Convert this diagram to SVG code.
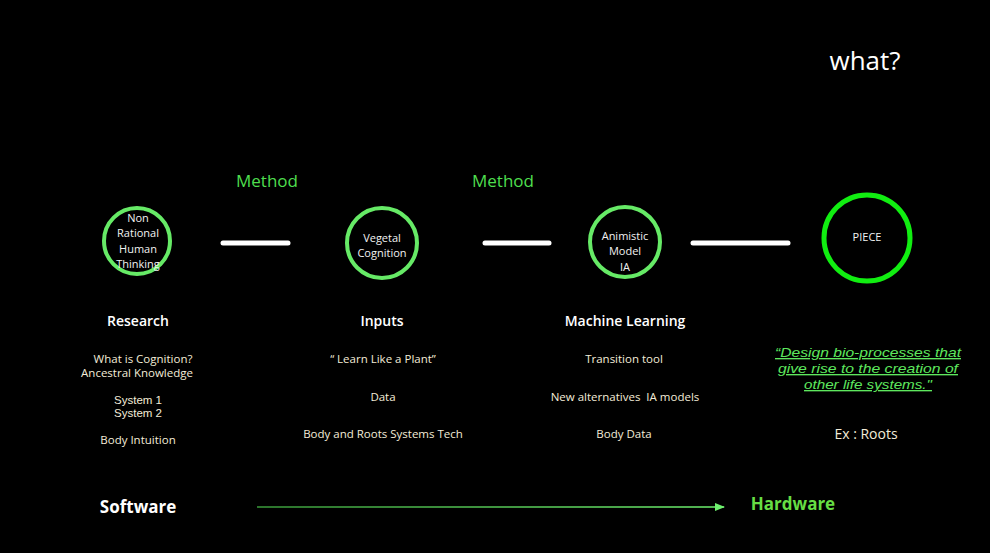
<svg xmlns="http://www.w3.org/2000/svg" width="990" height="553" viewBox="0 0 990 553">
<defs>
<style>
text{font-family:"Open Sans","Liberation Sans",sans-serif;text-anchor:middle}
.ring{fill:none;stroke:#66ea66;stroke-width:4}
.in{fill:#f2f2f2;font-size:11px}
.head{fill:#ffffff;font-size:14px;font-weight:600}
.small{fill:#f3ecd8;font-size:11.5px}
.tight{font-family:"Liberation Sans",sans-serif;font-size:11px}
.meth{fill:#4ede4e;font-size:17px}
.bar{stroke:#ffffff;stroke-width:5;stroke-linecap:round}
.quote{font-family:"Liberation Sans",sans-serif;fill:#5ee85e;font-size:13.5px;font-style:italic;text-decoration:underline}
</style>
<linearGradient id="g" x1="257" x2="724" y1="0" y2="0" gradientUnits="userSpaceOnUse">
<stop offset="0" stop-color="#3a9a3a"/>
<stop offset="1" stop-color="#6ef06e"/>
</linearGradient>
<marker id="ah" markerWidth="10" markerHeight="8" refX="9" refY="4" orient="auto" markerUnits="userSpaceOnUse">
<path d="M0,0 L10,4 L0,8 z" fill="#6ef06e"/>
</marker>
</defs>
<rect width="990" height="553" fill="#000"/>
<text x="865" y="70" fill="#fff" font-size="26">what?</text>

<g id="connectors">
<line class="bar" x1="223" y1="243" x2="288" y2="243"/>
<line class="bar" x1="485" y1="243" x2="549" y2="243"/>
<line class="bar" x1="693" y1="243" x2="788" y2="243"/>
<line x1="257" y1="507" x2="724" y2="507" stroke="url(#g)" stroke-width="1.5" marker-end="url(#ah)"/>
<text class="meth" x="267" y="187">Method</text>
<text class="meth" x="503" y="187">Method</text>
</g>

<g id="node-research">
<circle class="ring" cx="137" cy="241" r="33"/>
<text class="in" x="138" y="222">Non</text>
<text class="in" x="138" y="237">Rational</text>
<text class="in" x="138" y="253">Human</text>
<text class="in" x="138" y="268">Thinking</text>
<text class="head" x="138" y="326">Research</text>
<text class="small" x="143" y="363">What is Cognition?</text>
<text class="small" x="137" y="377">Ancestral Knowledge</text>
<text class="small tight" x="138" y="404" textLength="48" lengthAdjust="spacingAndGlyphs">System 1</text>
<text class="small tight" x="138" y="417" textLength="48" lengthAdjust="spacingAndGlyphs">System 2</text>
<text class="small" x="138" y="444">Body Intuition</text>
</g>

<g id="node-inputs">
<circle class="ring" cx="382" cy="243" r="35"/>
<text class="in" x="382" y="242">Vegetal</text>
<text class="in" x="382" y="257">Cognition</text>
<text class="head" x="382" y="326">Inputs</text>
<text class="small" x="383" y="363">“ Learn Like a Plant”</text>
<text class="small" x="383" y="401">Data</text>
<text class="small" x="383" y="438">Body and Roots Systems Tech</text>
</g>

<g id="node-ml">
<circle class="ring" cx="625" cy="242" r="35"/>
<text class="in" x="625" y="240">Animistic</text>
<text class="in" x="625" y="255">Model</text>
<text class="in" x="625" y="271">IA</text>
<text class="head" x="625" y="326">Machine Learning</text>
<text class="small" x="624" y="363">Transition tool</text>
<text class="small" x="625" y="401" style="white-space:pre">New alternatives  IA models</text>
<text class="small" x="624" y="438">Body Data</text>
</g>

<g id="node-piece">
<circle cx="867" cy="238" r="43" fill="none" stroke="#11ee11" stroke-width="5"/>
<text class="in" x="867" y="241">PIECE</text>
<text class="quote" x="868" y="357" textLength="186" lengthAdjust="spacingAndGlyphs">“Design bio-processes that</text>
<text class="quote" x="868" y="373" textLength="180" lengthAdjust="spacingAndGlyphs">give rise to the creation of</text>
<text class="quote" x="868" y="389" textLength="128" lengthAdjust="spacingAndGlyphs">other life systems."</text>
<text x="866" y="439" fill="#f3ecd8" font-size="14">Ex : Roots</text>
</g>

<text x="138" y="513" fill="#fff" font-size="17" font-weight="700">Software</text>
<text x="793" y="510" fill="#66dd44" font-size="17" font-weight="700">Hardware</text>
</svg>
